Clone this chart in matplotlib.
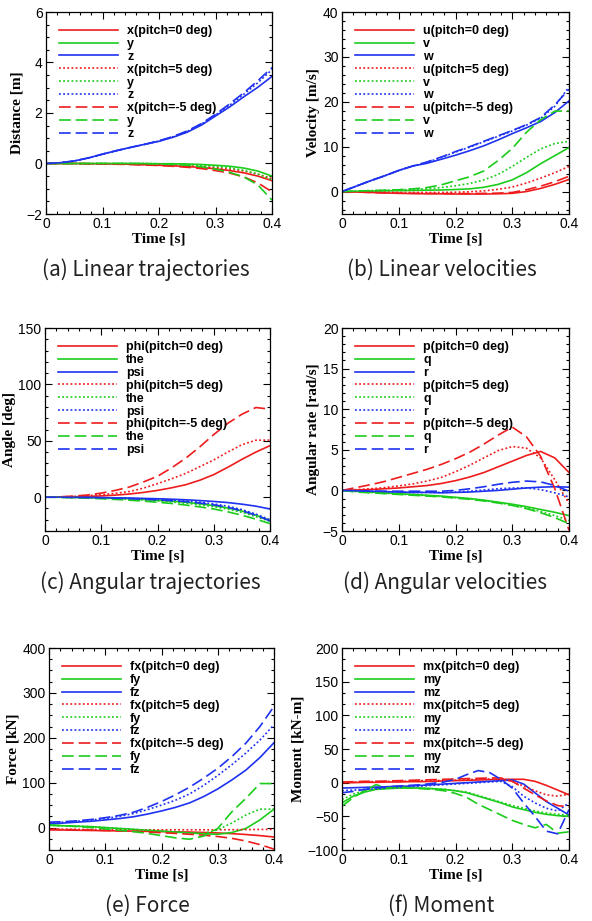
import matplotlib
matplotlib.use("Agg")
import matplotlib.pyplot as plt
from matplotlib.ticker import AutoMinorLocator, FixedLocator, FuncFormatter

# time grids [s]
t = [0, .025, .05, .075, .1, .125, .15, .175, .2, .225, .25, .275, .3, .325, .35, .375, .4]
t_m = [0, .02, .04, .06, .08, .1, .12, .14, .16, .18, .2, .22, .24, .26, .28, .3, .32, .34, .36, .38, .4]

# (a) linear trajectories [m]
x_0 = [0, 0, 0, -0.01, -0.01, -0.02, -0.03, -0.05, -0.07, -0.09, -0.12, -0.16, -0.21, -0.28, -0.37, -0.5, -0.68]
y_0 = [0, 0, 0, 0, 0, 0, 0, 0, -0.01, -0.01, -0.02, -0.04, -0.07, -0.11, -0.18, -0.3, -0.5]
z_0 = [0, 0.03, 0.1, 0.22, 0.37, 0.51, 0.64, 0.76, 0.88, 1.04, 1.24, 1.52, 1.88, 2.24, 2.64, 3.02, 3.45]
x_5 = [0, 0, 0, -0.01, -0.01, -0.02, -0.03, -0.04, -0.05, -0.07, -0.09, -0.12, -0.16, -0.22, -0.3, -0.42, -0.6]
y_5 = [0, 0, 0, 0, 0, 0, 0, 0, -0.01, -0.02, -0.04, -0.07, -0.11, -0.17, -0.27, -0.42, -0.65]
z_5 = [0, 0.03, 0.1, 0.22, 0.37, 0.51, 0.64, 0.76, 0.89, 1.06, 1.27, 1.56, 1.92, 2.31, 2.74, 3.2, 3.72]
x_m5 = [0, 0, 0, -0.01, -0.02, -0.03, -0.04, -0.06, -0.08, -0.11, -0.15, -0.2, -0.28, -0.38, -0.53, -0.77, -1.12]
y_m5 = [0, 0, 0, 0, 0, 0, 0, -0.01, -0.02, -0.04, -0.07, -0.13, -0.22, -0.35, -0.53, -0.85, -1.45]
z_m5 = [0, 0.03, 0.1, 0.22, 0.37, 0.51, 0.64, 0.76, 0.9, 1.07, 1.29, 1.58, 1.95, 2.36, 2.8, 3.28, 3.8]

# (b) linear velocities [m/s]
u_0 = [0, -0.1, -0.2, -0.3, -0.4, -0.45, -0.5, -0.5, -0.55, -0.55, -0.55, -0.5, -0.4, 0.0, 0.7, 1.6, 2.7]
v_0 = [0, 0.05, 0.1, 0.15, 0.2, 0.25, 0.3, 0.35, 0.45, 0.6, 0.95, 1.6, 2.6, 4.2, 6.2, 8.0, 9.8]
w_0 = [0, 1.2, 2.4, 3.5, 4.7, 5.7, 6.3, 7.2, 8.1, 9.1, 10.2, 11.5, 12.9, 14.2, 15.6, 17.6, 20.2]
u_5 = [0, -0.05, -0.1, -0.15, -0.2, -0.2, -0.2, -0.2, -0.15, -0.05, 0.15, 0.5, 1.0, 1.9, 3.0, 4.2, 5.6]
v_5 = [0, 0.1, 0.2, 0.3, 0.4, 0.5, 0.6, 0.9, 1.3, 1.8, 2.6, 3.8, 5.6, 7.6, 9.5, 10.7, 11.2]
w_5 = [0, 1.2, 2.4, 3.5, 4.7, 5.7, 6.5, 7.6, 8.8, 9.9, 11.1, 12.3, 13.5, 14.8, 16.3, 19.0, 23.3]
u_m5 = [0, -0.1, -0.2, -0.3, -0.35, -0.4, -0.4, -0.45, -0.45, -0.45, -0.4, -0.35, -0.2, 0.4, 1.2, 2.2, 3.4]
v_m5 = [0, 0.1, 0.2, 0.3, 0.4, 0.6, 0.9, 1.5, 2.4, 3.3, 4.6, 6.9, 9.6, 13.2, 16.0, 17.9, 18.0]
w_m5 = [0, 1.2, 2.4, 3.5, 4.7, 5.7, 6.6, 7.7, 8.9, 10.0, 11.2, 12.4, 13.6, 14.9, 16.5, 19.3, 22.8]

# (c) angular trajectories [deg]
phi_0 = [0, 0.1, 0.3, 0.6, 1.1, 1.8, 2.8, 4.2, 6.0, 8.3, 11.0, 15.0, 20.0, 26.5, 33.5, 40.0, 45.7]
the_0 = [0, 0, -0.2, -0.4, -0.7, -1, -1.4, -2, -2.7, -3.5, -4.5, -5.8, -7.5, -9.6, -12.3, -16, -20.5]
psi_0 = [0, 0, -0.1, -0.2, -0.4, -0.6, -0.8, -1.1, -1.4, -1.8, -2.3, -3, -3.8, -4.8, -6.2, -8, -10.5]
phi_5 = [0, 0.2, 0.6, 1.3, 2.2, 3.4, 5.0, 8.0, 12.0, 16.3, 21, 27, 33, 40, 46.5, 50.5, 50.6]
the_5 = [0, -0.1, -0.3, -0.6, -1, -1.4, -1.9, -2.6, -3.4, -4.3, -5.4, -6.8, -8.5, -10.7, -13.5, -17.3, -21.5]
psi_5 = [0, 0, -0.1, -0.3, -0.5, -0.7, -1, -1.4, -1.9, -2.5, -3.3, -4.4, -6, -8, -11, -15, -20]
phi_m5 = [0, 0.3, 0.9, 1.9, 3.6, 6, 9, 13.5, 18.5, 26, 34.5, 44.5, 55.5, 65.5, 73.5, 79.5, 78]
the_m5 = [0, -0.2, -0.5, -0.9, -1.4, -2, -2.7, -3.5, -4.5, -5.6, -7, -8.6, -10.5, -13, -16, -19.5, -23.5]
psi_m5 = [0, 0, -0.2, -0.4, -0.6, -0.9, -1.3, -1.8, -2.4, -3.1, -4, -5.2, -6.8, -9, -12, -16, -21]

# (d) angular velocities [rad/s]
p_0 = [0, 0.05, 0.1, 0.2, 0.3, 0.45, 0.6, 0.85, 1.2, 1.65, 2.2, 2.9, 3.6, 4.3, 4.8, 4.0, 2.2]
q_0 = [0, -0.1, -0.2, -0.3, -0.4, -0.5, -0.6, -0.7, -0.85, -1.0, -1.2, -1.45, -1.7, -2.0, -2.35, -2.7, -3.1]
r_0 = [0, -0.05, -0.1, -0.15, -0.2, -0.25, -0.25, -0.3, -0.25, -0.2, -0.1, 0.0, 0.15, 0.3, 0.4, 0.45, 0.4]
p_5 = [0, 0.1, 0.2, 0.35, 0.55, 0.8, 1.15, 1.6, 2.3, 3.1, 4.0, 4.9, 5.4, 5.2, 4.0, 1.3, -1.6]
q_5 = [0, -0.15, -0.25, -0.35, -0.45, -0.55, -0.65, -0.75, -0.9, -1.05, -1.25, -1.5, -1.8, -2.15, -2.6, -3.1, -3.7]
r_5 = [0, -0.05, -0.1, -0.15, -0.2, -0.25, -0.25, -0.25, -0.2, -0.1, 0.05, 0.2, 0.3, 0.3, 0.1, -0.3, -0.8]
p_m5 = [0, 0.35, 0.7, 1.1, 1.6, 2.1, 2.6, 3.2, 3.9, 4.7, 5.7, 6.8, 7.8, 6.6, 4.2, 0.2, -4.9]
q_m5 = [0, -0.2, -0.3, -0.4, -0.5, -0.6, -0.7, -0.8, -0.95, -1.1, -1.3, -1.55, -1.85, -2.25, -2.75, -3.35, -4.1]
r_m5 = [0, -0.05, -0.1, -0.1, -0.1, -0.1, -0.1, -0.1, 0.0, 0.2, 0.45, 0.75, 1.0, 1.15, 1.05, 0.6, -0.1]

# (e) force [kN]
fx_0 = [-5, -5.5, -6, -6.5, -7, -7.5, -8, -8.5, -9, -9.5, -10, -11, -12, -13.5, -15.5, -18, -21]
fy_0 = [5, 4, 3, 2, 0, -2, -4, -6, -8, -10, -12, -14, -15, -11, -2, 17, 41]
fz_0 = [8, 10, 12, 14, 17, 20, 24, 30, 37, 45, 55, 69, 86, 106, 128, 156, 189]
fx_5 = [-3, -3.5, -4, -4.3, -4.6, -4.8, -5, -5, -5, -5, -5, -5, -5, -4.8, -4.5, -4.2, -4]
fy_5 = [5, 4, 3, 2, 0, -2, -4, -6, -8, -10, -12, -13, -5, 10, 28, 41, 41]
fz_5 = [10, 12, 14, 17, 20, 25, 31, 40, 50, 61, 75, 94, 116, 140, 166, 195, 229]
fx_m5 = [-4, -4.5, -5, -5.5, -6.5, -7.5, -8.5, -10, -11.5, -13, -15, -17, -20, -24, -30, -38, -48]
fy_m5 = [6, 4, 2, 0, -3, -6, -9, -13, -18, -23, -26, -19, -2, 35, 65, 98, 98]
fz_m5 = [12, 13, 15, 18, 22, 27, 34, 45, 58, 73, 90, 110, 132, 158, 188, 225, 270]

# (f) moment [kN-m]
mx_0 = [0, 0, 0.5, 0.5, 1, 1, 1.5, 1.5, 2, 2.5, 3, 3.5, 4, 4.5, 5, 5, 5, 2, -4, -11, -18]
my_0 = [-30, -20, -14, -10, -9, -8, -8, -8, -9, -10, -12, -15, -20, -25, -30, -36, -40, -44, -47, -49, -50]
mz_0 = [-8, -7.5, -7, -6.5, -6, -5.5, -5, -4, -3, -2, -1, 0, 1, 2, 3, 4, -2, -15, -28, -38, -48]
mx_5 = [1, 1, 1.5, 1.5, 2, 2, 2.5, 3, 3, 3.5, 4, 4.5, 5, 5.5, 5, 2, -5, -12, -18, -20, -17]
my_5 = [-25, -17, -12, -9, -8, -7, -8, -8, -9, -10, -12, -14, -19, -24, -29, -34, -38, -42, -45, -47, -48]
mz_5 = [-12, -11, -10, -9, -8, -7, -6, -5, -4, -3, -2, -1, 0, 1, 2, -6, -20, -30, -38, -42, -30]
mx_m5 = [1, 1.5, 2, 2, 2.5, 3, 3.5, 4, 4.5, 5, 5.5, 6, 6.5, 7, 7, 2, -8, -18, -27, -34, -36]
my_m5 = [-35, -22, -12, -3, -8, -6, -8, -9, -10, -12, -16, -22, -32, -40, -48, -56, -62, -67, -62, -75, -73]
mz_m5 = [-15, -13, -10, -8, -6, -5, -4, -3, -1, 1, 5, 12, 18, 15, 5, -8, -30, -50, -72, -76, -40]

RED, GREEN, BLUE = "#ee1c1c", "#1ccc1c", "#1e32f0"
DOTTED = (0, (1.1, 1.4))
DASHED = (0, (7, 3))

plt.rcParams["font.family"] = ["Liberation Sans", "DejaVu Sans"]


def panel(ax, tt, series, names, ylabel, ylim, yticks, yminor):
    """Tecplot-style panel: three pitch cases x three components."""
    labels = []
    for case in ["0", "5", "-5"]:
        labels += [f"{names[0]}(pitch={case} deg)", names[1], names[2]]
    colours = [RED, GREEN, BLUE] * 3
    styles = ["-"] * 3 + [DOTTED] * 3 + [DASHED] * 3
    for vals, lab, col, ls in zip(series, labels, colours, styles):
        ax.plot(tt, vals, color=col, lw=1.2, linestyle=ls, label=lab)
    ax.set_xlim(0, 0.4)
    ax.set_ylim(*ylim)
    ax.xaxis.set_major_locator(FixedLocator([0, 0.1, 0.2, 0.3, 0.4]))
    ax.xaxis.set_major_formatter(FuncFormatter(lambda v, _: "0" if v == 0 else f"{v:.1f}"))
    ax.yaxis.set_major_locator(FixedLocator(yticks))
    ax.xaxis.set_minor_locator(AutoMinorLocator(5))
    ax.yaxis.set_minor_locator(AutoMinorLocator(yminor))
    ax.tick_params(which="both", direction="in", top=True, right=True, labelsize=10, width=0.8)
    ax.tick_params(which="major", length=5, pad=2.5)
    ax.tick_params(which="minor", length=2.5)
    for s in ax.spines.values():
        s.set_linewidth(0.9)
    ax.set_xlabel("Time [s]", family="Liberation Serif", weight="bold", fontsize=11, labelpad=1)
    ax.set_ylabel(ylabel, family="Liberation Serif", weight="bold", fontsize=11, labelpad=2)
    ax.legend(loc="upper left", frameon=False, handlelength=4.7, handletextpad=0.75,
              labelspacing=0.07, borderaxespad=0.75, borderpad=0.3,
              prop={"weight": "bold", "size": 9})


fig = plt.figure(figsize=(5.92, 9.21), dpi=100)
W, H = 592.0, 921.0
boxes = [(46, 272, 12, 214), (342, 569, 12, 214),
         (45, 270, 328, 531), (342, 569, 328, 531),
         (49, 274, 648, 850), (342, 569, 648, 850)]
axes = [fig.add_axes([l / W, 1 - b / H, (r - l) / W, (b - tp) / H]) for l, r, tp, b in boxes]

panel(axes[0], t, [x_0, y_0, z_0, x_5, y_5, z_5, x_m5, y_m5, z_m5], ["x", "y", "z"],
      "Distance [m]", (-2, 6), [-2, 0, 2, 4, 6], 4)
panel(axes[1], t, [u_0, v_0, w_0, u_5, v_5, w_5, u_m5, v_m5, w_m5], ["u", "v", "w"],
      "Velocity [m/s]", (-5, 40), [0, 10, 20, 30, 40], 5)
panel(axes[2], t, [phi_0, the_0, psi_0, phi_5, the_5, psi_5, phi_m5, the_m5, psi_m5], ["phi", "the", "psi"],
      "Angle [deg]", (-30, 150), [0, 50, 100, 150], 5)
panel(axes[3], t, [p_0, q_0, r_0, p_5, q_5, r_5, p_m5, q_m5, r_m5], ["p", "q", "r"],
      "Angular rate [rad/s]", (-5, 20), [-5, 0, 5, 10, 15, 20], 5)
panel(axes[4], t, [fx_0, fy_0, fz_0, fx_5, fy_5, fz_5, fx_m5, fy_m5, fz_m5], ["fx", "fy", "fz"],
      "Force [kN]", (-50, 400), [0, 100, 200, 300, 400], 4)
panel(axes[5], t_m, [mx_0, my_0, mz_0, mx_5, my_5, mz_5, mx_m5, my_m5, mz_m5], ["mx", "my", "mz"],
      "Moment [kN-m]", (-100, 200), [-100, -50, 0, 50, 100, 150, 200], 3)

captions = [("(a) Linear trajectories", 146, 270), ("(b) Linear velocities", 442, 270),
            ("(c) Angular trajectories", 150, 583), ("(d) Angular velocities", 445, 583),
            ("(e) Force", 147, 906), ("(f) Moment", 441, 906)]
for text, cx, cy in captions:
    fig.text(cx / W, 1 - cy / H, text, ha="center", va="center", fontsize=15,
             family=["Noto Sans CJK KR", "DejaVu Sans"], color="#222222")

fig.savefig("out.png", dpi=100)
